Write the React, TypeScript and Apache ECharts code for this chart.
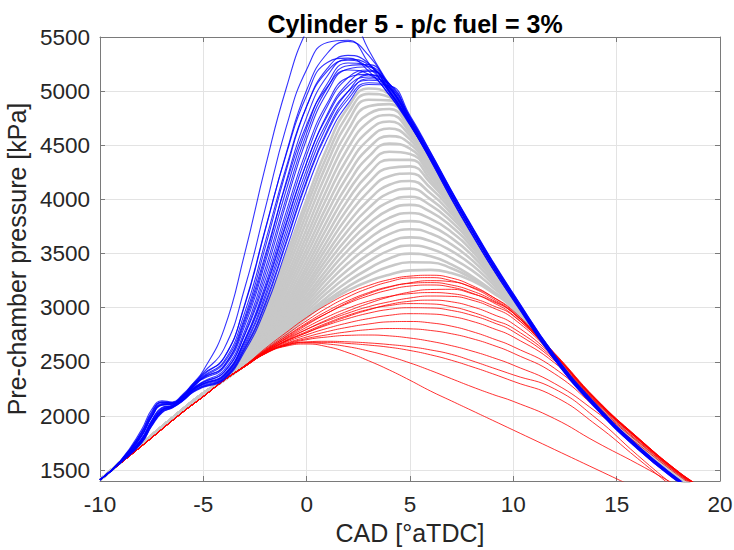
import React, { useEffect, useRef } from 'react';
import * as echarts from 'echarts';

// ---------- x positions ----------
const BLUE_X = [-10, -9, -8, -7.5, -7, -6.5, -6, -5.5, -5, -4, -3, -2, -1, 0, 1, 2, 3, 4, 5, 6, 7, 8, 9, 10, 12, 14, 16, 18, 19];
const PREFIX_X = [-10, -8, -6, -5];
const MAIN_X = [-4, -3, -2, -1, 0, 1, 2, 3, 4, 5, 6, 7, 8, 9, 10, 12, 14, 16, 18, 19];

// shared compression part (kPa) before the gray / red curves separate
const GRAY_PREFIX = [1410, 1740, 2060, 2210];
const RED_PREFIX = [1410, 1720, 2035, 2180];

// ---------- blue curves (values at BLUE_X) ----------
const BLUE_CURVES = [
  [1410, 1590, 1870, 2060, 2140, 2130, 2200, 2300, 2420, 2800, 3500, 4300, 5020, 5560, 5840, 5760, 5380, 5060, 4760, 4430, 4080, 3740, 3415, 3115, 2545, 2092, 1718, 1405, 1276],
  [1410, 1585, 1850, 2040, 2130, 2125, 2190, 2290, 2400, 2620, 3180, 3920, 4660, 5200, 5450, 5470, 5260, 4990, 4725, 4405, 4055, 3722, 3400, 3105, 2540, 2090, 1716, 1403, 1275],
  [1410, 1585, 1840, 2020, 2125, 2120, 2185, 2280, 2380, 2540, 3020, 3720, 4420, 5010, 5350, 5460, 5330, 5040, 4725, 4395, 4050, 3718, 3398, 3102, 2538, 2089, 1715, 1402, 1274],
  [1410, 1580, 1820, 2000, 2110, 2115, 2180, 2270, 2360, 2490, 2910, 3560, 4260, 4860, 5210, 5330, 5255, 5005, 4695, 4360, 4010, 3680, 3365, 3075, 2520, 2072, 1700, 1390, 1264],
  [1410, 1580, 1810, 1990, 2100, 2110, 2175, 2265, 2350, 2460, 2860, 3460, 4160, 4760, 5140, 5295, 5245, 5005, 4705, 4383, 4040, 3711, 3392, 3097, 2535, 2086, 1712, 1400, 1272],
  [1410, 1582, 1830, 2010, 2115, 2118, 2182, 2275, 2370, 2505, 2955, 3610, 4290, 4860, 5185, 5285, 5215, 4985, 4695, 4378, 4038, 3710, 3391, 3096, 2535, 2086, 1712, 1400, 1272],
  [1410, 1578, 1790, 1960, 2080, 2100, 2165, 2255, 2320, 2425, 2785, 3360, 4010, 4610, 5030, 5235, 5245, 5040, 4730, 4410, 4070, 3740, 3420, 3122, 2556, 2102, 1726, 1412, 1282],
  [1410, 1585, 1845, 2030, 2128, 2122, 2188, 2285, 2390, 2535, 3030, 3730, 4410, 4960, 5265, 5305, 5185, 4965, 4685, 4373, 4036, 3709, 3390, 3095, 2534, 2085, 1711, 1399, 1271],
  [1410, 1576, 1780, 1950, 2070, 2095, 2160, 2250, 2310, 2405, 2755, 3310, 3960, 4560, 4990, 5205, 5225, 5020, 4700, 4360, 4005, 3675, 3360, 3070, 2515, 2068, 1697, 1388, 1262],
  [1410, 1575, 1775, 1940, 2060, 2090, 2155, 2245, 2300, 2385, 2705, 3210, 3830, 4410, 4860, 5125, 5195, 5045, 4722, 4392, 4044, 3713, 3393, 3098, 2536, 2087, 1713, 1401, 1273],
  [1410, 1575, 1770, 1935, 2055, 2088, 2152, 2240, 2295, 2375, 2685, 3160, 3760, 4340, 4790, 5075, 5185, 5065, 4732, 4396, 4046, 3714, 3394, 3099, 2536, 2087, 1713, 1401, 1273],
  [1410, 1578, 1785, 1955, 2075, 2098, 2162, 2252, 2315, 2405, 2745, 3260, 3880, 4460, 4890, 5125, 5155, 4995, 4702, 4382, 4040, 3711, 3392, 3097, 2535, 2086, 1712, 1400, 1272],
  [1410, 1572, 1760, 1920, 2045, 2082, 2145, 2230, 2280, 2355, 2645, 3090, 3660, 4230, 4690, 4995, 5150, 5070, 4760, 4425, 4075, 3745, 3425, 3127, 2560, 2106, 1729, 1414, 1284],
  [1410, 1575, 1772, 1938, 2058, 2090, 2154, 2244, 2298, 2375, 2695, 3180, 3780, 4340, 4770, 5045, 5130, 5025, 4722, 4392, 4044, 3713, 3393, 3098, 2536, 2087, 1713, 1401, 1273],
  [1410, 1570, 1755, 1915, 2040, 2080, 2142, 2226, 2275, 2345, 2625, 3050, 3610, 4180, 4640, 4955, 5115, 5065, 4752, 4407, 4050, 3716, 3396, 3101, 2538, 2089, 1715, 1403, 1275],
  [1410, 1573, 1765, 1928, 2050, 2085, 2148, 2236, 2288, 2365, 2665, 3120, 3710, 4280, 4720, 4995, 5100, 5030, 4715, 4370, 4015, 3685, 3368, 3078, 2520, 2073, 1700, 1390, 1264],
  [1410, 1570, 1752, 1910, 2035, 2078, 2140, 2222, 2270, 2345, 2615, 3030, 3590, 4160, 4620, 4925, 5078, 5035, 4742, 4402, 4048, 3715, 3395, 3100, 2537, 2088, 1714, 1402, 1274],
  [1410, 1568, 1748, 1905, 2030, 2075, 2138, 2218, 2265, 2335, 2595, 2990, 3530, 4090, 4560, 4885, 5062, 5050, 4775, 4435, 4085, 3752, 3430, 3130, 2562, 2108, 1731, 1416, 1286],
  [1410, 1583, 1815, 1995, 2105, 2112, 2178, 2268, 2355, 2465, 2885, 3490, 4140, 4690, 5040, 5195, 5155, 4965, 4692, 4380, 4039, 3710, 3391, 3096, 2535, 2086, 1712, 1400, 1272],
  [1410, 1581, 1812, 1992, 2102, 2108, 2174, 2300, 2345, 2450, 2830, 3420, 4080, 4660, 5070, 5260, 5230, 5000, 4700, 4381, 4040, 3711, 3392, 3097, 2535, 2086, 1712, 1400, 1272],
];

// ---------- gray curves (values at MAIN_X) ----------
const GRAY_CURVES = [
  [2360, 2620, 3000, 3480, 4000, 4480, 4850, 5025, 4970, 4700, 4370, 4020, 3690, 3375, 3085, 2540, 2095, 1725, 1415, 1288],
  [2355, 2605, 2970, 3430, 3940, 4410, 4790, 4975, 4945, 4690, 4365, 4018, 3688, 3374, 3084, 2542, 2097, 1728, 1418, 1290],
  [2352, 2592, 2940, 3380, 3870, 4340, 4720, 4920, 4915, 4680, 4360, 4015, 3686, 3373, 3083, 2544, 2099, 1731, 1421, 1292],
  [2350, 2580, 2910, 3330, 3800, 4260, 4640, 4860, 4880, 4665, 4352, 4012, 3684, 3372, 3082, 2546, 2101, 1734, 1424, 1294],
  [2348, 2570, 2885, 3280, 3730, 4180, 4560, 4790, 4835, 4645, 4342, 4008, 3682, 3370, 3080, 2548, 2103, 1737, 1427, 1296],
  [2346, 2560, 2860, 3235, 3665, 4100, 4475, 4715, 4780, 4620, 4330, 4003, 3679, 3368, 3078, 2550, 2105, 1740, 1430, 1298],
  [2344, 2552, 2840, 3195, 3605, 4025, 4390, 4635, 4720, 4590, 4315, 3997, 3676, 3366, 3076, 2551, 2106, 1742, 1432, 1300],
  [2342, 2544, 2820, 3155, 3545, 3950, 4305, 4555, 4655, 4555, 4295, 3990, 3672, 3364, 3074, 2552, 2107, 1744, 1434, 1302],
  [2340, 2537, 2800, 3115, 3490, 3880, 4225, 4475, 4585, 4515, 4272, 3980, 3668, 3362, 3072, 2553, 2108, 1746, 1436, 1304],
  [2339, 2530, 2782, 3080, 3435, 3810, 4145, 4395, 4515, 4470, 4245, 3968, 3663, 3359, 3070, 2554, 2109, 1748, 1438, 1306],
  [2338, 2524, 2765, 3045, 3385, 3745, 4070, 4315, 4440, 4420, 4215, 3953, 3657, 3356, 3068, 2555, 2110, 1750, 1440, 1308],
  [2337, 2518, 2750, 3015, 3340, 3680, 3995, 4235, 4365, 4365, 4180, 3935, 3650, 3352, 3066, 2556, 2111, 1751, 1441, 1309],
  [2336, 2513, 2735, 2985, 3295, 3620, 3920, 4155, 4290, 4305, 4150, 3925, 3660, 3352, 3064, 2557, 2112, 1752, 1442, 1310],
  [2335, 2508, 2720, 2960, 3255, 3565, 3850, 4075, 4215, 4240, 4105, 3900, 3650, 3347, 3061, 2557, 2112, 1753, 1443, 1311],
  [2334, 2504, 2708, 2935, 3215, 3510, 3780, 3995, 4135, 4170, 4055, 3870, 3635, 3340, 3058, 2557, 2113, 1754, 1444, 1312],
  [2333, 2500, 2696, 2912, 3180, 3460, 3715, 3920, 4060, 4100, 4000, 3835, 3615, 3332, 3055, 2557, 2113, 1755, 1445, 1313],
  [2332, 2496, 2685, 2890, 3145, 3410, 3650, 3845, 3980, 4025, 3945, 3795, 3590, 3322, 3052, 2557, 2114, 1756, 1446, 1314],
  [2331, 2492, 2675, 2870, 3110, 3360, 3590, 3775, 3905, 3950, 3885, 3750, 3560, 3310, 3048, 2556, 2114, 1757, 1447, 1315],
  [2330, 2488, 2665, 2850, 3080, 3315, 3530, 3705, 3830, 3875, 3820, 3700, 3525, 3292, 3044, 2555, 2114, 1757, 1447, 1316],
  [2330, 2485, 2656, 2832, 3050, 3270, 3470, 3635, 3755, 3800, 3755, 3645, 3485, 3272, 3039, 2554, 2113, 1757, 1448, 1316],
  [2330, 2482, 2648, 2815, 3020, 3225, 3410, 3565, 3680, 3725, 3685, 3585, 3440, 3248, 3033, 2552, 2112, 1756, 1448, 1317],
  [2330, 2479, 2640, 2800, 2992, 3182, 3350, 3495, 3605, 3650, 3615, 3525, 3395, 3220, 3026, 2550, 2111, 1755, 1448, 1317],
  [2330, 2476, 2633, 2786, 2966, 3140, 3295, 3425, 3530, 3575, 3545, 3460, 3345, 3190, 3018, 2548, 2110, 1754, 1447, 1317],
  [2330, 2473, 2627, 2772, 2942, 3100, 3242, 3360, 3455, 3500, 3475, 3400, 3290, 3155, 3010, 2546, 2109, 1753, 1447, 1317],
  [2330, 2470, 2622, 2760, 2925, 3070, 3195, 3300, 3380, 3420, 3418, 3365, 3270, 3145, 3000, 2543, 2107, 1752, 1446, 1316],
  [2330, 2468, 2618, 2750, 2910, 3050, 3160, 3245, 3305, 3345, 3350, 3320, 3250, 3140, 2990, 2540, 2105, 1750, 1445, 1315],
];

// ---------- red curves (values at MAIN_X) ----------
const RED_CURVES = [
  [2330, 2465, 2625, 2770, 2910, 3030, 3130, 3205, 3260, 3292, 3300, 3275, 3205, 3100, 2960, 2570, 2150, 1800, 1480, 1350],
  [2330, 2465, 2615, 2750, 2880, 3000, 3100, 3180, 3240, 3275, 3278, 3250, 3185, 3085, 2950, 2565, 2150, 1800, 1480, 1350],
  [2330, 2462, 2600, 2720, 2840, 2950, 3050, 3130, 3190, 3230, 3250, 3240, 3190, 3100, 2970, 2580, 2160, 1805, 1485, 1355],
  [2330, 2463, 2605, 2735, 2860, 2970, 3065, 3140, 3195, 3225, 3232, 3210, 3155, 3070, 2950, 2565, 2148, 1798, 1480, 1350],
  [2330, 2462, 2610, 2730, 2850, 2950, 3040, 3110, 3165, 3200, 3210, 3190, 3135, 3050, 2930, 2560, 2145, 1795, 1478, 1348],
  [2330, 2460, 2595, 2700, 2800, 2890, 2970, 3040, 3100, 3145, 3168, 3170, 3130, 3060, 2950, 2575, 2155, 1805, 1485, 1355],
  [2330, 2461, 2598, 2715, 2820, 2915, 2995, 3060, 3105, 3130, 3140, 3130, 3090, 3020, 2925, 2560, 2150, 1800, 1481, 1351],
  [2330, 2460, 2600, 2710, 2800, 2880, 2950, 3010, 3055, 3090, 3108, 3105, 3070, 3000, 2900, 2555, 2150, 1800, 1482, 1352],
  [2330, 2460, 2590, 2690, 2770, 2850, 2920, 2980, 3030, 3060, 3070, 3055, 3010, 2940, 2850, 2540, 2140, 1795, 1478, 1348],
  [2330, 2460, 2592, 2695, 2780, 2860, 2930, 2985, 3020, 3038, 3035, 3010, 2960, 2890, 2810, 2525, 2135, 1792, 1476, 1346],
  [2330, 2460, 2590, 2690, 2770, 2840, 2900, 2950, 2985, 3000, 2998, 2975, 2930, 2865, 2780, 2510, 2130, 1790, 1475, 1345],
  [2330, 2458, 2585, 2680, 2750, 2810, 2860, 2900, 2930, 2945, 2942, 2920, 2875, 2810, 2730, 2490, 2120, 1785, 1470, 1340],
  [2330, 2458, 2585, 2670, 2730, 2780, 2820, 2850, 2870, 2873, 2860, 2830, 2780, 2715, 2640, 2440, 2100, 1775, 1465, 1335],
  [2330, 2458, 2580, 2665, 2715, 2750, 2778, 2798, 2808, 2805, 2790, 2760, 2715, 2655, 2580, 2390, 2080, 1765, 1460, 1330],
  [2330, 2456, 2580, 2660, 2705, 2730, 2745, 2748, 2740, 2720, 2690, 2650, 2600, 2540, 2470, 2300, 2040, 1745, 1450, 1320],
  [2330, 2456, 2580, 2655, 2685, 2690, 2685, 2675, 2660, 2640, 2610, 2570, 2510, 2445, 2380, 2250, 1980, 1640, 1320, 1170],
  [2330, 2455, 2578, 2655, 2680, 2680, 2670, 2655, 2635, 2605, 2565, 2515, 2455, 2390, 2320, 2180, 1920, 1610, 1300, 1150],
  [2330, 2455, 2578, 2650, 2675, 2665, 2640, 2600, 2550, 2490, 2420, 2345, 2270, 2200, 2135, 1975, 1760, 1560, 1350, 1250],
  [2330, 2455, 2575, 2645, 2665, 2640, 2585, 2510, 2425, 2330, 2230, 2140, 2050, 1960, 1870, 1690, 1510, 1330, 1150, 1060],
];

const TITLE = 'Cylinder 5 - p/c fuel = 3%';
const X_NAME = 'CAD [°aTDC]';
const Y_NAME = 'Pre-chamber pressure [kPa]';

const FONT = '"Liberation Sans", Arial, Helvetica, sans-serif';
const TXT = '#262626';
const AXIS_C = '#7a7a7a';

function toPairs(xs: number[], ys: number[]) {
  return xs.map((x, i) => [x, ys[i]]);
}

function lineSeries(data: number[][], color: string, width: number, opacity: number) {
  return {
    type: 'line',
    data,
    showSymbol: false,
    symbol: 'none',
    smooth: 0.5,
    silent: true,
    clip: true,
    lineStyle: { color, width, opacity },
    emphasis: { disabled: true },
    animation: false,
  };
}

export default function App() {
  const ref = useRef<HTMLDivElement>(null);
  useEffect(() => {
    if (!ref.current) return;
    const chart = echarts.init(ref.current, null, { renderer: 'svg' });
    const series: any[] = [];
    GRAY_CURVES.forEach((c) => {
      series.push(lineSeries(toPairs(PREFIX_X.concat(MAIN_X), GRAY_PREFIX.concat(c)), '#c8c8c8', 2.6, 1));
    });
    RED_CURVES.forEach((c) => {
      series.push(lineSeries(toPairs(PREFIX_X.concat(MAIN_X), RED_PREFIX.concat(c)), '#ff0000', 1, 0.8));
    });
    BLUE_CURVES.forEach((c) => {
      series.push(lineSeries(toPairs(BLUE_X, c), '#0000ff', 1.1, 0.8));
    });

    const axisCommon = {
      axisLine: { show: true, onZero: false, lineStyle: { color: AXIS_C, width: 1 } },
      axisTick: { show: true, inside: true, length: 5, lineStyle: { color: AXIS_C, width: 1 } },
    };

    chart.setOption({
      animation: false,
      backgroundColor: '#ffffff',
      title: {
        text: TITLE,
        left: 410,
        top: 6,
        textAlign: 'center',
        textStyle: { fontFamily: FONT, fontSize: 25, fontWeight: 'bold', color: '#000000' },
      },
      grid: { left: 100, right: 14, top: 37, bottom: 69, containLabel: false, outerBoundsMode: 'none' },
      xAxis: [
        {
          type: 'value',
          min: -10,
          max: 20,
          interval: 5,
          position: 'bottom',
          name: X_NAME,
          nameLocation: 'middle',
          nameGap: 37,
          nameTextStyle: { fontFamily: FONT, fontSize: 25, color: TXT },
          ...axisCommon,
          axisLabel: { fontFamily: FONT, fontSize: 22.5, color: TXT, margin: 12 },
          splitLine: { show: true, lineStyle: { color: '#e3e3e3', width: 1 } },
        },
        {
          type: 'value',
          min: -10,
          max: 20,
          interval: 5,
          position: 'top',
          ...axisCommon,
          axisLabel: { show: false },
          splitLine: { show: false },
        },
      ],
      yAxis: [
        {
          type: 'value',
          min: 1400,
          max: 5500,
          splitNumber: 8,
          position: 'left',
          name: Y_NAME,
          nameLocation: 'middle',
          nameGap: 62,
          nameTextStyle: { fontFamily: FONT, fontSize: 25, color: TXT },
          ...axisCommon,
          axisLabel: {
            fontFamily: FONT,
            fontSize: 22.5,
            color: TXT,
            margin: 10,
            showMinLabel: false,
            formatter: (v: number) => String(v),
          },
          splitLine: { show: true, lineStyle: { color: '#e3e3e3', width: 1 } },
        },
        {
          type: 'value',
          min: 1400,
          max: 5500,
          splitNumber: 8,
          position: 'right',
          ...axisCommon,
          axisLabel: { show: false },
          splitLine: { show: false },
        },
      ],
      series,
    });
    return () => chart.dispose();
  }, []);
  return (
    <div
      ref={ref}
      style={{ position: 'fixed', left: 0, top: 0, width: 734, height: 550, background: '#ffffff' }}
    />
  );
}
